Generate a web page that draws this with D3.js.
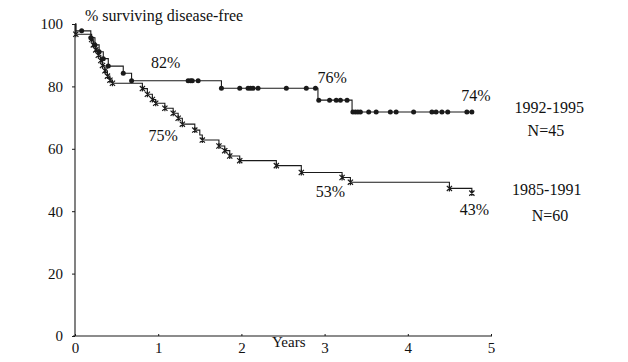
<!DOCTYPE html>
<html><head><meta charset="utf-8">
<script src="https://cdn.jsdelivr.net/npm/d3@7"></script>
<style>
html,body{margin:0;padding:0;background:#fff;}
svg text{font-family:"Liberation Serif","Times New Roman",serif;fill:#111;}
</style></head>
<body>
<svg id="c" width="628" height="362"></svg>
<script>
// ---- data ----
const xTicks = [0, 1, 2, 3, 4, 5];
const yTicks = [0, 20, 40, 60, 80, 100];

// 1992-1995 (N=45): event times and survival after each event
const recentEventTimes  = [0.01, 0.19, 0.24, 0.29, 0.34, 0.40, 0.58, 0.68, 1.76, 2.92, 3.33];
const recentEventValues = [97.8, 95.6, 93.3, 91.1, 88.9, 86.5, 84.2, 81.8, 79.4, 75.6, 71.8];
const recentEnd = 4.77;
const recentMarks = [0.08, 0.19, 0.24, 0.29, 0.34, 0.40, 0.58, 0.68, 1.36, 1.39, 1.41, 1.48,
  1.76, 1.98, 2.08, 2.11, 2.14, 2.20, 2.54, 2.78, 2.89, 2.93, 3.06, 3.14, 3.19, 3.27,
  3.34, 3.37, 3.40, 3.43, 3.53, 3.62, 3.79, 3.86, 4.07, 4.29, 4.34, 4.41, 4.48, 4.71, 4.77];

// 1985-1991 (N=60)
const oldEventTimes  = [0.01, 0.20, 0.22, 0.25, 0.28, 0.31, 0.33, 0.36, 0.39, 0.42, 0.45,
  0.81, 0.87, 0.93, 0.97, 1.08, 1.18, 1.24, 1.29, 1.44, 1.50, 1.53, 1.73, 1.80, 1.86, 1.98,
  2.42, 2.72, 3.21, 3.31, 4.50, 4.77];
const oldEventValues = [96.7, 95.0, 93.3, 91.7, 90.0, 88.3, 86.7, 85.0, 83.3, 82.0, 81.0,
  79.3, 77.5, 75.8, 74.6, 73.0, 71.4, 69.8, 67.9, 66.0, 64.4, 62.8, 60.9, 59.4, 57.7, 56.2,
  54.6, 52.4, 50.8, 49.3, 47.3, 45.8];
const oldEnd = 4.77;
const oldMarks = [0.01, 0.20, 0.22, 0.25, 0.28, 0.31, 0.33, 0.36, 0.39, 0.42, 0.45,
  0.81, 0.87, 0.93, 0.97, 1.08, 1.18, 1.24, 1.29, 1.44, 1.53, 1.73, 1.80, 1.86, 1.98,
  2.42, 2.72, 3.21, 3.31, 4.50, 4.77];

// annotations: [text, time, value]
const pctLabels = [["82%", 1.09, 87.8], ["75%", 1.06, 64.4], ["76%", 3.09, 82.9],
  ["74%", 4.82, 77.2], ["53%", 3.07, 46.2], ["43%", 4.80, 40.6]];
const groupLabels = [["1992-1995", 5.70, 73.2], ["N=45", 5.66, 66.0],
  ["1985-1991", 5.67, 47.0], ["N=60", 5.71, 38.8]];

// ---- drawing ----
const svg = d3.select("#c");
const x = d3.scaleLinear().domain([0, 5]).range([75, 491]);
const y = d3.scaleLinear().domain([0, 100]).range([336, 24]);

const ink = "#1a1a1a";

// axes
const xAxis = svg.append("g").attr("transform", `translate(0,${y(0)})`)
  .call(d3.axisBottom(x).tickValues(xTicks).tickSize(-2).tickPadding(6).tickFormat(d3.format("d")));
const yAxis = svg.append("g").attr("transform", `translate(${x(0)},0)`)
  .call(d3.axisLeft(y).tickValues(yTicks).tickSize(3).tickPadding(9).tickFormat(d3.format("d")));
[xAxis, yAxis].forEach(g => {
  g.select(".domain").attr("stroke", ink).attr("stroke-width", 1.1);
  g.selectAll(".tick line").attr("stroke", ink);
  g.selectAll(".tick text").attr("font-size", 15).attr("fill", "#111")
    .attr("font-family", "'Liberation Serif', serif");
});
xAxis.select(".domain").attr("d", `M${x(0)-2},0H${x(5)+1}`);
yAxis.select(".domain").attr("d", `M0,${y(100)}V${y(0)}`);

// axis titles
svg.append("text").attr("x", 85).attr("y", 21).attr("font-size", 16)
  .text("% surviving disease-free");
svg.append("text").attr("x", 272).attr("y", 347).attr("font-size", 15).text("Years");

function stepPoints(times, values, end) {
  const pts = [[0, 100]];
  times.forEach((t, i) => pts.push([t, values[i]]));
  pts.push([end, values[values.length - 1]]);
  return pts;
}
function valueAt(times, values, t) {
  let v = 100;
  times.forEach((et, i) => { if (et <= t + 1e-9) v = values[i]; });
  return v;
}
const line = d3.line().x(d => x(d[0])).y(d => y(d[1])).curve(d3.curveStepAfter);

svg.append("path").datum(stepPoints(oldEventTimes, oldEventValues, oldEnd))
  .attr("d", line).attr("fill", "none").attr("stroke", ink).attr("stroke-width", 1.1);
svg.append("path").datum(stepPoints(recentEventTimes, recentEventValues, recentEnd))
  .attr("d", line).attr("fill", "none").attr("stroke", ink).attr("stroke-width", 1.1);

// markers: x for old series
svg.append("g").selectAll("path").data(oldMarks).join("path")
  .attr("transform", t => `translate(${x(t)},${y(valueAt(oldEventTimes, oldEventValues, t))})`)
  .attr("d", "M-2.6,-2.6L2.6,2.6M-2.6,2.6L2.6,-2.6M0,-3V3")
  .attr("stroke", ink).attr("stroke-width", 1.2).attr("fill", "none");

// markers: dots for recent series
svg.append("g").selectAll("circle").data(recentMarks).join("circle")
  .attr("cx", t => x(t))
  .attr("cy", t => y(valueAt(recentEventTimes, recentEventValues, t)))
  .attr("r", 2.5).attr("fill", ink);

// percentage labels
svg.append("g").selectAll("text").data(pctLabels).join("text")
  .attr("x", d => x(d[1])).attr("y", d => y(d[2])).attr("dy", "0.35em")
  .attr("text-anchor", "middle").attr("font-size", 16).text(d => d[0]);

// group labels
svg.append("g").selectAll("text").data(groupLabels).join("text")
  .attr("x", d => x(d[1])).attr("y", d => y(d[2])).attr("dy", "0.35em")
  .attr("text-anchor", "middle").attr("font-size", 16).text(d => d[0]);
</script>
</body></html>
